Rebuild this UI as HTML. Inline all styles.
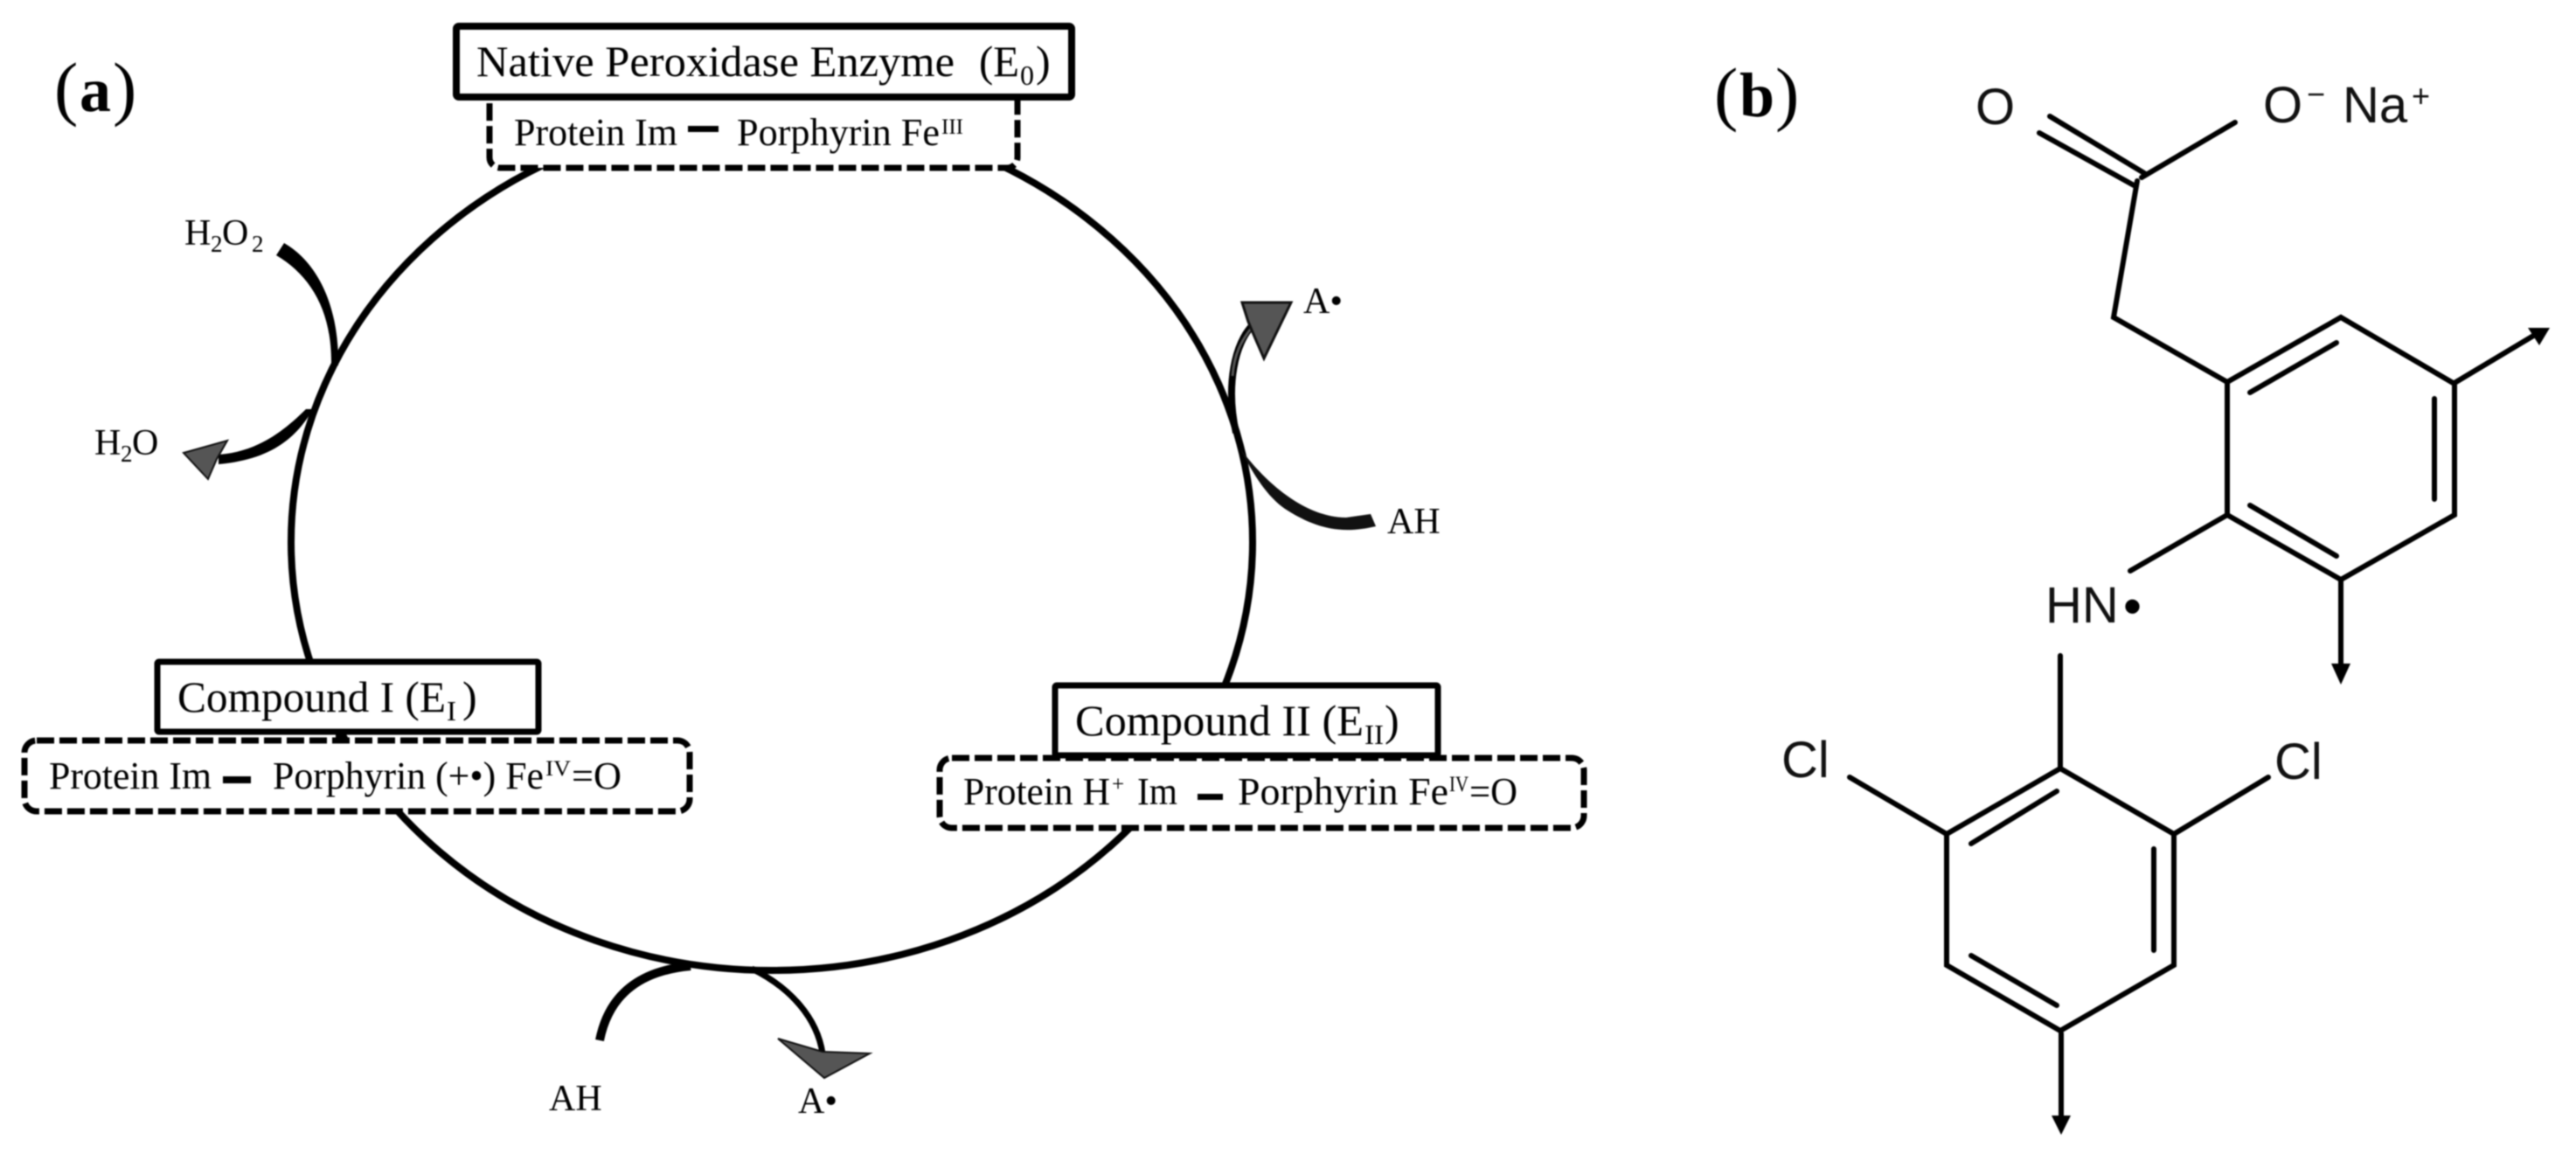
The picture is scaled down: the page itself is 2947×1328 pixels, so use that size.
<!DOCTYPE html>
<html><head><meta charset="utf-8"><style>
html,body{margin:0;padding:0;background:#fff}
svg{display:block;filter:blur(.7px)}
.s{font-family:"Liberation Serif",serif;fill:#000}
.a{font-family:"Liberation Sans",sans-serif;fill:#111;font-size:58px}
.h{font-size:50px}.p{font-size:44px}.l{font-size:42px}.sb{font-size:27px}.sc{font-size:32px}.sp{font-size:25px}
</style></head><body>
<svg xmlns="http://www.w3.org/2000/svg" width="2947" height="1328" viewBox="0 0 2947 1328">
<rect width="2947" height="1328" fill="#fff"/>
<ellipse cx="883" cy="620" rx="550" ry="490" fill="none" stroke="#000" stroke-width="8"/>

<!-- boxes -->
<g fill="#fff" stroke="#000" stroke-width="7" stroke-dasharray="20 6">
<rect x="560" y="100" width="604" height="92" rx="12"/>
<rect x="28" y="847" width="761" height="81" rx="14"/>
<rect x="1075" y="867" width="737" height="80" rx="14"/>
</g>
<g fill="#fff" stroke="#000">
<rect x="522" y="30" width="704" height="81" rx="3" stroke-width="8"/>
<rect x="180" y="757" width="436" height="80" rx="2" stroke-width="7"/>
<rect x="1207" y="784" width="438" height="80" rx="2" stroke-width="7"/>
</g>
<rect x="384" y="836" width="10" height="14" fill="#000"/>

<!-- panel labels -->
<text class="s" x="62" y="128" font-size="82">(</text>
<text class="s" x="91" y="127" font-size="72" font-weight="700">a</text>
<text class="s" x="129" y="128" font-size="82">)</text>
<text class="s" x="1961" y="134" font-size="82">(</text>
<text class="s" x="1990" y="133" font-size="72" font-weight="700">b</text>
<text class="s" x="2031" y="134" font-size="82">)</text>

<!-- E0 -->
<text class="s h" x="545" y="87" textLength="547" lengthAdjust="spacingAndGlyphs">Native Peroxidase Enzyme</text>
<text class="s h" x="1120" y="87" textLength="46" lengthAdjust="spacingAndGlyphs">(E</text>
<text class="s sc" x="1167" y="97">0</text>
<text class="s h" x="1185" y="87">)</text>
<text class="s p" x="588" y="166" textLength="187" lengthAdjust="spacingAndGlyphs">Protein Im</text>
<rect x="787" y="144" width="35" height="7" fill="#000"/>
<text class="s p" x="843" y="166" textLength="232" lengthAdjust="spacingAndGlyphs">Porphyrin Fe</text>
<text class="s sp" x="1077" y="153" textLength="25" lengthAdjust="spacingAndGlyphs">III</text>

<!-- E1 -->
<text class="s h" x="203" y="814" textLength="307" lengthAdjust="spacingAndGlyphs">Compound I (E</text>
<text class="s sc" x="511" y="824" textLength="11" lengthAdjust="spacingAndGlyphs">I</text>
<text class="s h" x="529" y="814">)</text>
<text class="s p" x="56" y="902" textLength="186" lengthAdjust="spacingAndGlyphs">Protein Im</text>
<rect x="255" y="888" width="32" height="8" fill="#000"/>
<text class="s p" x="312" y="902" textLength="310" lengthAdjust="spacingAndGlyphs">Porphyrin (+•) Fe</text>
<text class="s sp" x="624" y="887" textLength="29" lengthAdjust="spacingAndGlyphs">IV</text>
<text class="s p" x="654" y="902" textLength="57" lengthAdjust="spacingAndGlyphs">=O</text>

<!-- E2 -->
<text class="s h" x="1230" y="841" textLength="330" lengthAdjust="spacingAndGlyphs">Compound II (E</text>
<text class="s sc" x="1561" y="851" textLength="22" lengthAdjust="spacingAndGlyphs">II</text>
<text class="s h" x="1584" y="841">)</text>
<text class="s p" x="1102" y="920" textLength="168" lengthAdjust="spacingAndGlyphs">Protein H</text>
<text class="s sp" x="1272" y="905">+</text>
<text class="s p" x="1301" y="920" textLength="46" lengthAdjust="spacingAndGlyphs">Im</text>
<rect x="1370" y="908" width="29" height="7" fill="#000"/>
<text class="s p" x="1416" y="920" textLength="241" lengthAdjust="spacingAndGlyphs">Porphyrin Fe</text>
<text class="s sp" x="1658" y="905" textLength="22" lengthAdjust="spacingAndGlyphs">IV</text>
<text class="s p" x="1681" y="920" textLength="55" lengthAdjust="spacingAndGlyphs">=O</text>

<!-- H2O2 / H2O -->
<text class="s l" x="211" y="280">H</text><text class="s sb" x="241" y="288">2</text><text class="s l" x="254" y="280">O</text><text class="s sb" x="288" y="288">2</text>
<text class="s l" x="108" y="520">H</text><text class="s sb" x="138" y="528">2</text><text class="s l" x="151" y="520">O</text>
<path d="M325,278 C360,298 388,345 387,418 L379,418 C380,355 355,315 316,292Z" fill="#000"/>
<path d="M358,468 C337,505 305,526 250,531 L250,520 C290,517 320,498 350,468Z" fill="#000"/>
<polygon points="210,518 260,504 248,525 238,548" fill="#555" stroke="#111" stroke-width="2"/>

<!-- bottom -->
<path d="M686,1190 C697,1135 735,1110 790,1105" fill="none" stroke="#000" stroke-width="10"/>
<path d="M860,1108 C905,1130 935,1165 941,1205" fill="none" stroke="#000" stroke-width="7"/>
<polygon points="890,1188 941,1203 995,1205 943,1233" fill="#555" stroke="#111" stroke-width="2"/>
<text class="s l" x="628" y="1270">AH</text>
<text class="s l" x="913" y="1273">A•</text>

<!-- right -->
<path d="M1414,495 C1402,440 1413,392 1433,372" fill="none" stroke="#000" stroke-width="8"/>
<path d="M1410,430 C1412,405 1420,390 1431,376" fill="none" stroke="#555" stroke-width="3"/>
<polygon points="1421,346 1477,346 1446,410 1436,387 1428,368" fill="#555" stroke="#111" stroke-width="3"/>
<path d="M1418,512 C1455,562 1500,592 1540,592 L1568,588 L1574,602 C1540,610 1510,608 1470,582 C1450,568 1435,545 1418,512Z" fill="#111"/>
<text class="s l" x="1491" y="358">A•</text>
<text class="s l" x="1587" y="610">AH</text>

<!-- panel b structure -->
<g stroke="#000" stroke-width="6" fill="none" stroke-linecap="round" stroke-linejoin="miter">
<path d="M2345,133 L2453,198 M2333,152 L2443,213"/>
<path d="M2557,140 L2450,203"/>
<path d="M2445,207 L2418,363 L2548,437"/>
<path d="M2548,437 L2678,363 L2808,439 L2808,589 L2678,663 L2548,589 Z"/>
<path d="M2574,449 L2673,392 M2785,456 L2785,571 M2574,578 L2673,636"/>
<path d="M2548,589 L2437,653"/>
<path d="M2808,438 L2900,383"/>
<path d="M2678,664 L2678,765"/>
<path d="M2357,750 L2357,879"/>
<path d="M2357,879 L2487,954 L2487,1104 L2357,1179 L2227,1104 L2227,954 Z"/>
<path d="M2255,965 L2353,905 M2464,971 L2464,1087 M2255,1093 L2353,1150"/>
<path d="M2116,889 L2227,954 M2595,889 L2487,954"/>
<path d="M2358,1182 L2358,1282"/>
</g>
<polygon points="2917,375 2892,375 2905,395" fill="#000"/>
<polygon points="2678,783 2667,759 2689,759" fill="#000"/>
<polygon points="2358,1298 2347,1276 2369,1276" fill="#000"/>

<text class="a" x="2260" y="142">O</text>
<text class="a" x="2589" y="140">O</text>
<text class="a" x="2639" y="120" style="font-size:36px">−</text>
<text class="a" x="2680" y="140">Na</text>
<text class="a" x="2759" y="122" style="font-size:36px">+</text>
<text class="a" x="2340" y="712">HN</text>
<text class="a" x="2429" y="714" style="font-size:60px;fill:#000">•</text>
<text class="a" x="2038" y="889">Cl</text>
<text class="a" x="2602" y="891">Cl</text>
</svg>
</body></html>
